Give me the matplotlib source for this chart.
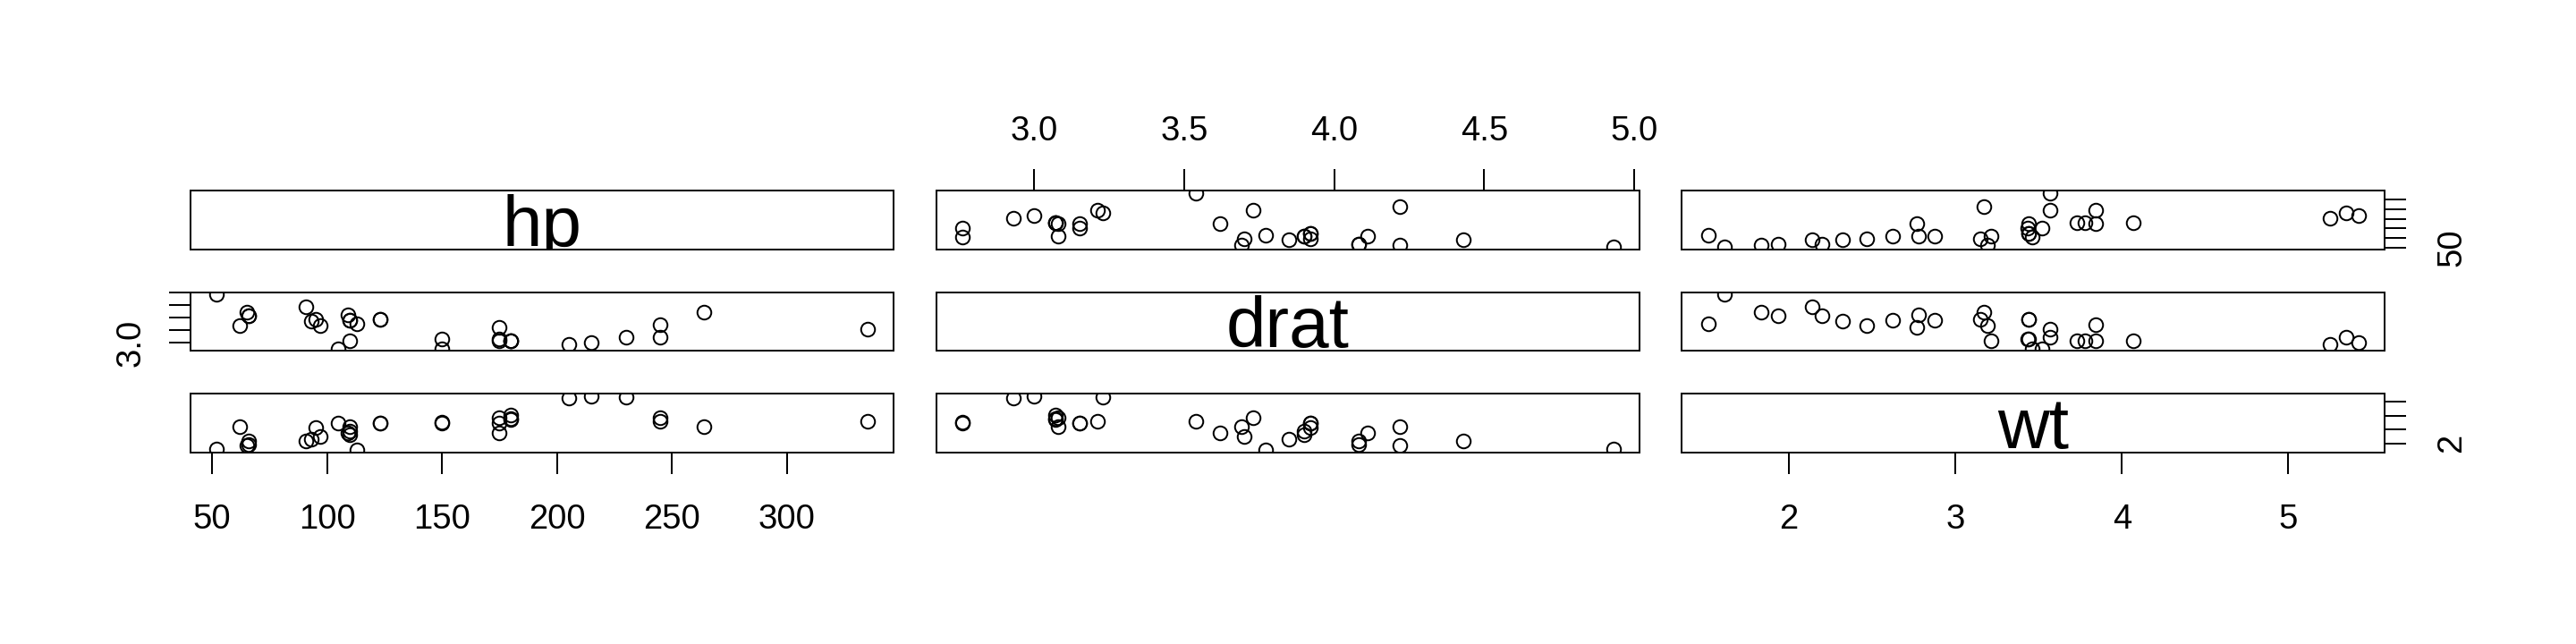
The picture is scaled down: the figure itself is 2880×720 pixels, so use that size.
import matplotlib
matplotlib.use("Agg")
import matplotlib.pyplot as plt
import matplotlib.transforms as mtransforms

plt.rcParams['font.family'] = ['Liberation Sans', 'DejaVu Sans']

# ---- data (mtcars: hp, drat, wt) ----
var_names = ['hp', 'drat', 'wt']
hp = [110, 110, 93, 110, 175, 105, 245, 62, 95, 123, 123, 180, 180, 180, 205, 215,
      230, 66, 52, 65, 97, 150, 150, 245, 175, 66, 91, 113, 264, 175, 335, 109]
drat = [3.90, 3.90, 3.85, 3.08, 3.15, 2.76, 3.21, 3.69, 3.92, 3.92, 3.92, 3.07, 3.07,
        3.07, 2.93, 3.00, 3.23, 4.08, 4.93, 4.22, 3.70, 2.76, 3.15, 3.73, 3.08, 4.08,
        4.43, 3.77, 4.22, 3.62, 3.54, 4.11]
wt = [2.620, 2.875, 2.320, 3.215, 3.440, 3.460, 3.570, 3.190, 3.150, 3.440, 3.440,
      4.070, 3.730, 3.780, 5.250, 5.424, 5.345, 2.200, 1.615, 1.835, 2.465, 3.520,
      3.435, 3.840, 3.845, 1.935, 2.140, 1.513, 3.170, 2.770, 3.570, 2.780]

# axis ticks / labels (R drops overlapping labels on vertical axes)
top_ticks_drat = [3.0, 3.5, 4.0, 4.5, 5.0]
top_labels_drat = ['3.0', '3.5', '4.0', '4.5', '5.0']
bottom_ticks_hp = [50, 100, 150, 200, 250, 300]
bottom_labels_hp = ['50', '100', '150', '200', '250', '300']
bottom_ticks_wt = [2, 3, 4, 5]
bottom_labels_wt = ['2', '3', '4', '5']
left_ticks_drat = [3.0, 3.5, 4.0, 4.5, 5.0]
left_labels_drat = ['3.0', '', '', '', '']
right_ticks_hp = [50, 100, 150, 200, 250, 300]
right_labels_hp = ['50', '', '', '', '', '']
right_ticks_wt = [2, 3, 4, 5]
right_labels_wt = ['2', '', '', '']

data = [hp, drat, wt]

# ---- layout (pixels) ----
W, H, DPI = 2880, 720, 100
fig = plt.figure(figsize=(W / DPI, H / DPI), dpi=DPI)
fig.patch.set_facecolor('white')

left0, col_step, pw = 213.0, 833.7, 786.0
top0, row_step, ph = 213.3, 113.4, 65.5

px2pt = 72.0 / DPI
tick_len = 24 * px2pt
tick_w = 2 * px2pt
lab_size = 27.5
diag_size = 57.6


def lims(v):
    lo, hi = min(v), max(v)
    r = hi - lo
    return lo - 0.04 * r, hi + 0.04 * r


axes = {}
for i in range(3):
    for j in range(3):
        x0 = left0 + j * col_step
        ytop = top0 + i * row_step
        ax = fig.add_axes([x0 / W, (H - ytop - ph) / H, pw / W, ph / H])
        axes[(i, j)] = ax
        for s in ax.spines.values():
            s.set_linewidth(2 * px2pt)
            s.set_color('black')
        ax.set_xlim(*lims(data[j]))
        ax.set_ylim(*lims(data[i]))
        ax.tick_params(axis='both', which='both', left=False, right=False, top=False,
                       bottom=False, labelleft=False, labelright=False,
                       labeltop=False, labelbottom=False)
        if i == j:
            tr = mtransforms.offset_copy(ax.transAxes, fig=fig, x=0,
                                         y=-0.716 * (diag_size / px2pt) / 2,
                                         units='dots')
            ax.text(0.5, 0.5, var_names[i], transform=tr, ha='center',
                    va='baseline', fontsize=diag_size, clip_on=True)
        else:
            ax.plot(data[j], data[i], linestyle='none', marker='o',
                    markerfacecolor='none', markeredgecolor='black',
                    markersize=15.5 * px2pt, markeredgewidth=2 * px2pt,
                    clip_on=True)

# top axis on column 2 (drat)
ax = axes[(0, 1)]
ax.set_xticks(top_ticks_drat, top_labels_drat)
ax.tick_params(axis='x', top=True, labeltop=True, direction='out', length=tick_len,
               width=tick_w, pad=24 * px2pt, labelsize=lab_size)

# bottom axis on column 1 (hp)
ax = axes[(2, 0)]
ax.set_xticks(bottom_ticks_hp, bottom_labels_hp)
ax.tick_params(axis='x', bottom=True, labelbottom=True, direction='out',
               length=tick_len, width=tick_w, pad=33 * px2pt, labelsize=lab_size)

# bottom axis on column 3 (wt)
ax = axes[(2, 2)]
ax.set_xticks(bottom_ticks_wt, bottom_labels_wt)
ax.tick_params(axis='x', bottom=True, labelbottom=True, direction='out',
               length=tick_len, width=tick_w, pad=33 * px2pt, labelsize=lab_size)

# left axis on row 2 (drat)
ax = axes[(1, 0)]
ax.set_yticks(left_ticks_drat, left_labels_drat)
ax.tick_params(axis='y', left=True, labelleft=True, direction='out', length=tick_len,
               width=tick_w, pad=24 * px2pt, labelsize=lab_size, labelrotation=90)
for t in ax.get_yticklabels():
    t.set_va('center')

# right axis on row 1 (hp)
ax = axes[(0, 2)]
ax.set_yticks(right_ticks_hp, right_labels_hp)
ax.tick_params(axis='y', right=True, labelright=True, direction='out',
               length=tick_len, width=tick_w, pad=33 * px2pt, labelsize=lab_size,
               labelrotation=90)
for t in ax.get_yticklabels():
    t.set_va('center')

# right axis on row 3 (wt)
ax = axes[(2, 2)]
ax.set_yticks(right_ticks_wt, right_labels_wt)
ax.tick_params(axis='y', right=True, labelright=True, direction='out',
               length=tick_len, width=tick_w, pad=33 * px2pt, labelsize=lab_size,
               labelrotation=90)
for t in ax.get_yticklabels():
    t.set_va('center')

fig.savefig('out.png', dpi=DPI, facecolor='white')
